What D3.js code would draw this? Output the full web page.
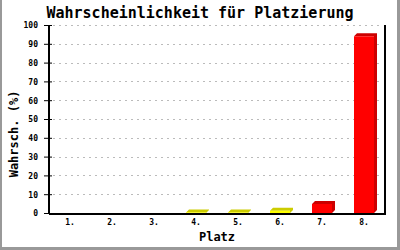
<!DOCTYPE html>
<html><head><meta charset="utf-8">
<script src="https://cdn.jsdelivr.net/npm/d3@7"></script>
<style>body{margin:0;background:#fff}svg{display:block}</style>
</head><body>
<svg id="c" width="400" height="250"></svg>
<script>
const categories = ["1.","2.","3.","4.","5.","6.","7.","8."];
const values = [0,0,0,0.3,0.3,1.2,4.8,94];
const yTicks = [0,10,20,30,40,50,60,70,80,90,100];
const title = "Wahrscheinlichkeit für Platzierung";
const xTitle = "Platz";
const yTitle = "Wahrsch. (%)";

const svg = d3.select("#c");
const W = 400, H = 250;
const L = 49, R = 385, T = 25, B = 213;
const mono = "'DejaVu Sans Mono', 'Liberation Mono', monospace";

svg.append("rect").attr("width", W).attr("height", H).attr("fill", "#fff");
// border
svg.append("rect").attr("x",0).attr("y",0).attr("width",2).attr("height",H).attr("fill","#999");
svg.append("rect").attr("x",397).attr("y",0).attr("width",3).attr("height",H).attr("fill","#999");
svg.append("rect").attr("x",0).attr("y",247).attr("width",W).attr("height",3).attr("fill","#999");

const x = d3.scaleBand().domain(categories).range([L, R]).paddingInner(0).paddingOuter(0);
const y = d3.scaleLinear().domain([0, 100]).range([B, T]);

// grid
svg.append("g").selectAll("line").data(yTicks.filter(d => d > 0)).join("line")
  .attr("x1", L + 4).attr("x2", R - 2)
  .attr("y1", d => Math.round(y(d)) + 0.5).attr("y2", d => Math.round(y(d)) + 0.5)
  .attr("stroke", "#bbb").attr("stroke-dasharray", "2,4");

// bars
const bw = 20, depth = 3;
const colorFront = v => v > 3 ? "#ff0000" : "#ffff00";
const colorDark = v => v > 3 ? "#cc0000" : "#cccc00";
const bars = svg.append("g");
categories.forEach((c, i) => {
  const v = values[i];
  if (v <= 0) return;
  const x0 = Math.round(x(c) + x.bandwidth() / 2 - bw / 2);
  const x1 = x0 + bw;
  const yt = y(v);
  bars.append("path")
    .attr("d", `M${x0},${yt} L${x0+depth},${yt-depth} L${x1+depth},${yt-depth} L${x1+depth},${B-depth} L${x1},${B} L${x1},${yt} Z`)
    .attr("fill", colorDark(v));
  bars.append("rect").attr("x", x0).attr("y", yt).attr("width", bw).attr("height", B - yt)
    .attr("fill", colorFront(v));
});

// axes
const ax = svg.append("g").attr("stroke", "#000").attr("shape-rendering", "crispEdges");
ax.append("line").attr("x1", L).attr("x2", L).attr("y1", T).attr("y2", B).attr("stroke-width", 1.5);
ax.append("line").attr("x1", R).attr("x2", R).attr("y1", T).attr("y2", B).attr("stroke-width", 2);
ax.append("line").attr("x1", L).attr("x2", R + 1).attr("y1", B + 0.5).attr("y2", B + 0.5).attr("stroke-width", 2);

const yAxis = d3.axisLeft(y).tickValues(yTicks).tickSize(0).tickPadding(0);
const gy = svg.append("g").attr("transform", `translate(${L},0)`).call(yAxis);
gy.select(".domain").remove();
gy.selectAll(".tick line").remove();
gy.selectAll(".tick").append("line").attr("x1", -5).attr("x2", 3).attr("stroke", "#000");
gy.selectAll(".tick text").attr("x", -11).attr("dy", "0.35em")
  .attr("font-family", mono).attr("font-size", 8).attr("font-weight", "bold").attr("fill", "#000");

const xAxis = d3.axisBottom(x).tickSize(0).tickPadding(0);
const gx = svg.append("g").attr("transform", `translate(0,${B})`).call(xAxis);
gx.select(".domain").remove();
gx.selectAll(".tick text").attr("y", 12).attr("dy", 0)
  .attr("font-family", mono).attr("font-size", 8).attr("font-weight", "bold").attr("fill", "#000");

// titles
svg.append("text").attr("x", 200).attr("y", 17.5).attr("text-anchor", "middle")
  .attr("font-family", mono).attr("font-size", 15).attr("font-weight", "bold").text(title);
svg.append("text").attr("x", (L + R) / 2).attr("y", 241).attr("text-anchor", "middle")
  .attr("font-family", mono).attr("font-size", 12).attr("font-weight", "bold").text(xTitle);
svg.append("text").attr("transform", "translate(18,134) rotate(-90)").attr("text-anchor", "middle")
  .attr("font-family", mono).attr("font-size", 12).attr("font-weight", "bold").text(yTitle);
</script>
</body></html>
